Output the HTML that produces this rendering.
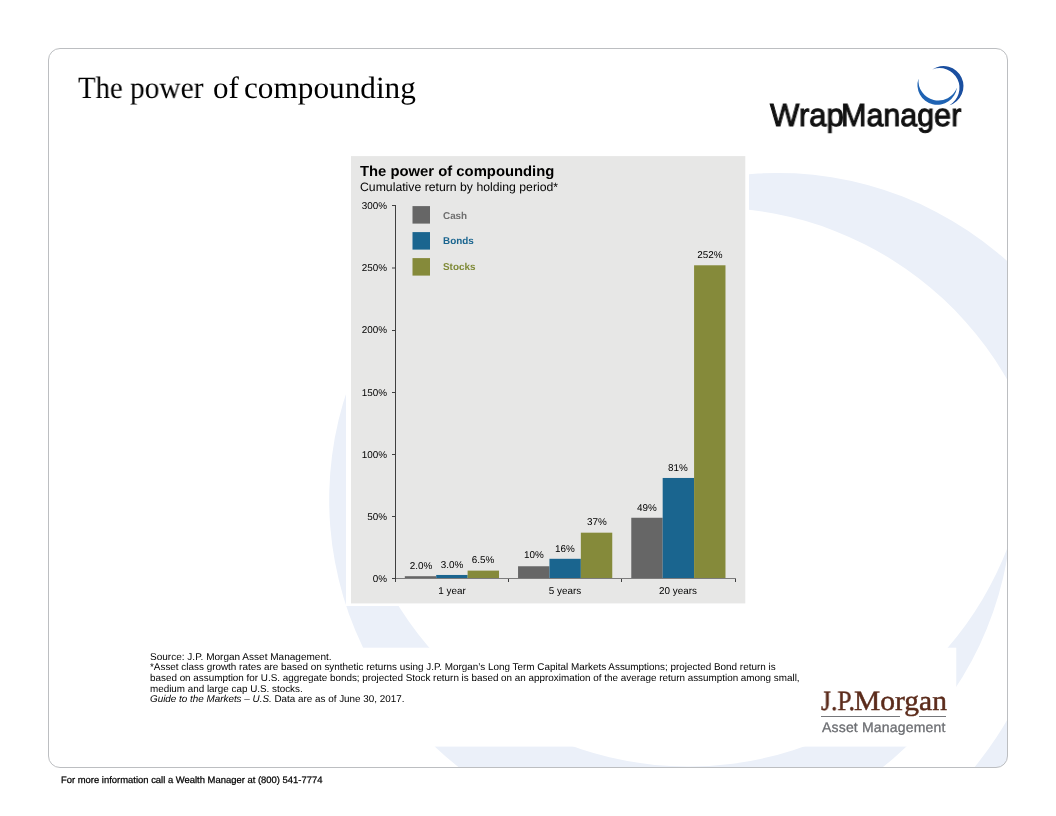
<!DOCTYPE html>
<html><head><meta charset="utf-8"><title>The power of compounding</title>
<style>
html,body{margin:0;padding:0;background:#fff;}
body{width:1056px;height:816px;position:relative;overflow:hidden;font-family:"Liberation Sans",sans-serif;}
.t{position:absolute;white-space:nowrap;will-change:transform;text-rendering:geometricPrecision;}
svg{position:absolute;left:0;top:0;}
</style></head><body>
<svg width="1056" height="816" viewBox="0 0 1056 816">
<defs><clipPath id="cc"><rect x="48.5" y="48.5" width="959" height="719" rx="11.5" ry="11.5"/></clipPath></defs>
<g clip-path="url(#cc)" fill="#ebf0f9">
<path d="M 348.72 385.70 A 341.5 341.5 0 1 0 1009.45 542.72 A 342.0 342.0 0 0 1 348.72 385.70 Z"/>
<path d="M 585.21 231.18 A 344.7 344.7 0 1 1 881.18 846.18 A 342.2 342.2 0 0 0 585.21 231.18 Z"/>
</g>
<rect x="346" y="152" width="403" height="454" fill="#fff"/>
<rect x="140" y="647.7" width="816.25" height="98.9" fill="#fff"/>
<rect x="48.5" y="48.5" width="959" height="719" rx="11.5" ry="11.5" fill="none" stroke="#bcbec1" stroke-width="1"/>
<rect x="351" y="156.1" width="394.3" height="447.3" fill="#e7e7e6"/>
<rect x="404.82" y="576.21" width="31.4" height="2.49" fill="#666666"/><rect x="436.22" y="574.97" width="31.4" height="3.73" fill="#1a658f"/><rect x="467.62" y="570.62" width="31.4" height="8.08" fill="#858a3a"/><rect x="518.05" y="566.26" width="31.4" height="12.44" fill="#666666"/><rect x="549.45" y="558.80" width="31.4" height="19.90" fill="#1a658f"/><rect x="580.85" y="532.68" width="31.4" height="46.02" fill="#858a3a"/><rect x="631.28" y="517.76" width="31.4" height="60.94" fill="#666666"/><rect x="662.68" y="477.96" width="31.4" height="100.74" fill="#1a658f"/><rect x="694.08" y="265.29" width="31.4" height="313.41" fill="#858a3a"/>
<g stroke="#404040" stroke-width="1" fill="none" shape-rendering="crispEdges"><line x1="395.5" y1="205" x2="395.5" y2="582"/></g><g fill="#404040"><rect x="392" y="578" width="3.5" height="1"/><rect x="392" y="516" width="3.5" height="1"/><rect x="392" y="454" width="3.5" height="1"/><rect x="392" y="392" width="3.5" height="1"/><rect x="392" y="330" width="3.5" height="1"/><rect x="392" y="267.5" width="3.5" height="1"/><rect x="392" y="205" width="3.5" height="1"/></g><g stroke="#404040" stroke-width="1" fill="none" shape-rendering="crispEdges"><line x1="395.5" y1="578.5" x2="735.5" y2="578.5" stroke="#7c7c7c"/><line x1="508.5" y1="578.5" x2="508.5" y2="582"/><line x1="621.5" y1="578.5" x2="621.5" y2="582"/><line x1="735.5" y1="578.5" x2="735.5" y2="582"/></g>
<rect x="412.5" y="206.1" width="17.5" height="17.5" fill="#666666"/><rect x="412.5" y="232.1" width="17.5" height="17.5" fill="#1a658f"/><rect x="412.5" y="258.1" width="17.5" height="17.5" fill="#858a3a"/>
</svg>
<div class="t" style="left:77.60px;top:68.74px;font-family:'Liberation Serif',serif;font-size:31px;line-height:37.2px;color:#000;transform:scaleX(0.926);transform-origin:0 0;">The</div>
<div class="t" style="left:129.70px;top:68.74px;font-family:'Liberation Serif',serif;font-size:31px;line-height:37.2px;color:#000;transform:scaleX(0.947);transform-origin:0 0;">power</div>
<div class="t" style="left:213.00px;top:68.74px;font-family:'Liberation Serif',serif;font-size:31px;line-height:37.2px;color:#000;">of</div>
<div class="t" style="left:243.60px;top:68.74px;font-family:'Liberation Serif',serif;font-size:31px;line-height:37.2px;color:#000;transform:scaleX(1.008);transform-origin:0 0;">compounding</div>
<div class="t" style="left:770.00px;top:96.41px;font-family:'Liberation Sans',sans-serif;font-size:32px;line-height:38.4px;color:#111;transform:scaleX(0.973);transform-origin:0 0;-webkit-text-stroke:1px #111;">Wrap</div>
<div class="t" style="left:841.10px;top:96.41px;font-family:'Liberation Sans',sans-serif;font-size:32px;line-height:38.4px;color:#111;transform:scaleX(0.952);transform-origin:0 0;-webkit-text-stroke:1px #111;">Manager</div>
<div class="t" style="left:360.40px;top:164.13px;font-family:'Liberation Sans',sans-serif;font-size:14.65px;line-height:17.58px;color:#000;font-weight:700;transform:scaleX(1.0126);transform-origin:0 0;">The power of compounding</div>
<div class="t" style="left:360.20px;top:180.02px;font-family:'Liberation Sans',sans-serif;font-size:12.13px;line-height:14.56px;color:#000;transform:scaleX(1.01);transform-origin:0 0;">Cumulative return by holding period*</div>
<div class="t" style="left:387.20px;top:573.63px;font-family:'Liberation Sans',sans-serif;font-size:9.9px;line-height:11.88px;color:#000;transform:translateX(-100%);">0%</div>
<div class="t" style="left:387.20px;top:511.63px;font-family:'Liberation Sans',sans-serif;font-size:9.9px;line-height:11.88px;color:#000;transform:translateX(-100%);">50%</div>
<div class="t" style="left:387.20px;top:449.63px;font-family:'Liberation Sans',sans-serif;font-size:9.9px;line-height:11.88px;color:#000;transform:translateX(-100%);">100%</div>
<div class="t" style="left:387.20px;top:387.63px;font-family:'Liberation Sans',sans-serif;font-size:9.9px;line-height:11.88px;color:#000;transform:translateX(-100%);">150%</div>
<div class="t" style="left:387.20px;top:324.63px;font-family:'Liberation Sans',sans-serif;font-size:9.9px;line-height:11.88px;color:#000;transform:translateX(-100%);">200%</div>
<div class="t" style="left:387.20px;top:262.63px;font-family:'Liberation Sans',sans-serif;font-size:9.9px;line-height:11.88px;color:#000;transform:translateX(-100%);">250%</div>
<div class="t" style="left:387.20px;top:200.63px;font-family:'Liberation Sans',sans-serif;font-size:9.9px;line-height:11.88px;color:#000;transform:translateX(-100%);">300%</div>
<div class="t" style="left:442.60px;top:210.73px;font-family:'Liberation Sans',sans-serif;font-size:9.9px;line-height:11.88px;color:#6f6f6f;font-weight:700;">Cash</div>
<div class="t" style="left:442.60px;top:235.68px;font-family:'Liberation Sans',sans-serif;font-size:9.9px;line-height:11.88px;color:#1a658f;font-weight:700;">Bonds</div>
<div class="t" style="left:442.60px;top:261.53px;font-family:'Liberation Sans',sans-serif;font-size:9.9px;line-height:11.88px;color:#7f8a37;font-weight:700;">Stocks</div>
<div class="t" style="left:420.52px;top:560.63px;font-family:'Liberation Sans',sans-serif;font-size:9.9px;line-height:11.88px;color:#000;transform:translateX(-50%);">2.0%</div>
<div class="t" style="left:451.92px;top:559.63px;font-family:'Liberation Sans',sans-serif;font-size:9.9px;line-height:11.88px;color:#000;transform:translateX(-50%);">3.0%</div>
<div class="t" style="left:483.32px;top:554.63px;font-family:'Liberation Sans',sans-serif;font-size:9.9px;line-height:11.88px;color:#000;transform:translateX(-50%);">6.5%</div>
<div class="t" style="left:533.75px;top:549.63px;font-family:'Liberation Sans',sans-serif;font-size:9.9px;line-height:11.88px;color:#000;transform:translateX(-50%);">10%</div>
<div class="t" style="left:565.15px;top:543.63px;font-family:'Liberation Sans',sans-serif;font-size:9.9px;line-height:11.88px;color:#000;transform:translateX(-50%);">16%</div>
<div class="t" style="left:596.55px;top:516.63px;font-family:'Liberation Sans',sans-serif;font-size:9.9px;line-height:11.88px;color:#000;transform:translateX(-50%);">37%</div>
<div class="t" style="left:646.98px;top:502.63px;font-family:'Liberation Sans',sans-serif;font-size:9.9px;line-height:11.88px;color:#000;transform:translateX(-50%);">49%</div>
<div class="t" style="left:678.38px;top:462.63px;font-family:'Liberation Sans',sans-serif;font-size:9.9px;line-height:11.88px;color:#000;transform:translateX(-50%);">81%</div>
<div class="t" style="left:709.78px;top:249.63px;font-family:'Liberation Sans',sans-serif;font-size:9.9px;line-height:11.88px;color:#000;transform:translateX(-50%);">252%</div>
<div class="t" style="left:451.92px;top:585.63px;font-family:'Liberation Sans',sans-serif;font-size:9.9px;line-height:11.88px;color:#000;transform:translateX(-50%);">1 year</div>
<div class="t" style="left:565.15px;top:585.63px;font-family:'Liberation Sans',sans-serif;font-size:9.9px;line-height:11.88px;color:#000;transform:translateX(-50%);">5 years</div>
<div class="t" style="left:678.38px;top:585.63px;font-family:'Liberation Sans',sans-serif;font-size:9.9px;line-height:11.88px;color:#000;transform:translateX(-50%);">20 years</div>
<div class="t" style="left:149.60px;top:651.68px;font-family:'Liberation Sans',sans-serif;font-size:9.85px;line-height:11.82px;color:#000;transform:scaleX(1.019);transform-origin:0 0;">Source: J.P. Morgan Asset Management.</div>
<div class="t" style="left:149.60px;top:661.68px;font-family:'Liberation Sans',sans-serif;font-size:9.85px;line-height:11.82px;color:#000;transform:scaleX(1.0056);transform-origin:0 0;">*Asset class growth rates are based on synthetic returns using J.P. Morgan’s Long Term Capital Markets Assumptions; projected Bond return is</div>
<div class="t" style="left:149.60px;top:672.68px;font-family:'Liberation Sans',sans-serif;font-size:9.85px;line-height:11.82px;color:#000;transform:scaleX(1.0026);transform-origin:0 0;">based on assumption for U.S. aggregate bonds; projected Stock return is based on an approximation of the average return assumption among small,</div>
<div class="t" style="left:149.60px;top:683.68px;font-family:'Liberation Sans',sans-serif;font-size:9.85px;line-height:11.82px;color:#000;">medium and large cap U.S. stocks.</div>
<div class="t" style="left:149.60px;top:693.68px;font-family:'Liberation Sans',sans-serif;font-size:9.85px;line-height:11.82px;color:#000;transform:scaleX(1.002);transform-origin:0 0;"><i>Guide to the Markets – U.S.</i> Data are as of June 30, 2017.</div>
<div class="t" style="left:820.90px;top:685.05px;font-family:'Liberation Serif',serif;font-size:28px;line-height:33.6px;color:#5b2b1b;transform:scaleX(0.91);transform-origin:0 0;-webkit-text-stroke:0.45px #5b2b1b;">J.P.</div>
<div class="t" style="left:853.70px;top:685.05px;font-family:'Liberation Serif',serif;font-size:28px;line-height:33.6px;color:#5b2b1b;transform:scaleX(1.055);transform-origin:0 0;-webkit-text-stroke:0.45px #5b2b1b;">Morgan</div>
<div style="position:absolute;left:821px;top:716px;width:78.8px;height:1.2px;background:#75777b"></div>
<div style="position:absolute;left:918.8px;top:716px;width:27.2px;height:1.2px;background:#75777b"></div>
<div class="t" style="left:822.00px;top:718.55px;font-family:'Liberation Sans',sans-serif;font-size:14px;line-height:16.8px;color:#6c6e72;letter-spacing:0.18px;-webkit-text-stroke:0.3px #6c6e72;">Asset Management</div>
<div class="t" style="left:60.50px;top:774.40px;font-family:'Liberation Sans',sans-serif;font-size:9.4px;line-height:11.28px;color:#000;transform:scaleX(1.006);transform-origin:0 0;-webkit-text-stroke:0.25px #000;">For more information call a Wealth Manager at (800) 541-7774</div>
<svg width="1056" height="816" viewBox="0 0 1056 816" style="left:0;top:0">
<g transform="translate(898.34 56.0) scale(0.05807)">
<path fill="#1f63b3" d="M 348.72 385.70 A 341.5 341.5 0 1 0 1009.45 542.72 A 342.0 342.0 0 0 1 348.72 385.70 Z"/>
<path fill="#1a4fa0" d="M 585.21 231.18 A 344.7 344.7 0 1 1 881.18 846.18 A 342.2 342.2 0 0 0 585.21 231.18 Z"/>
</g></svg>
</body></html>
